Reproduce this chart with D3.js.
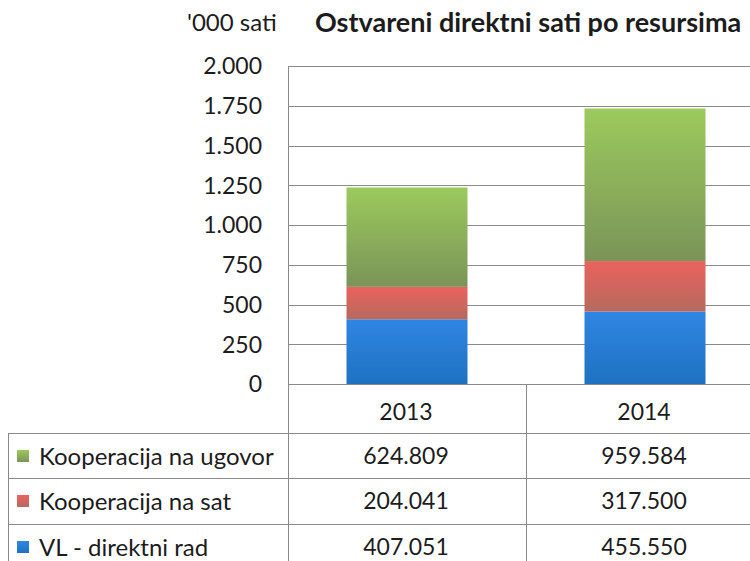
<!DOCTYPE html>
<html>
<head>
<meta charset="utf-8">
<script src="https://cdn.jsdelivr.net/npm/d3@7"></script>
<style>
  html, body { margin: 0; padding: 0; background: #fff; }
  svg { display: block; font-family: Lato, "Open Sans", sans-serif; }
</style>
</head>
<body>
<div id="viz"></div>
<script>
// -----------------------------
// DATA
// -----------------------------
const years = ["2013", "2014"];
const seriesNames = ["VL - direktni rad", "Kooperacija na sat", "Kooperacija na ugovor"];
const vlDirektni = [407051, 455550];
const koopSat = [204041, 317500];
const koopUgovor = [624809, 959584];
const yTicks = [0, 250, 500, 750, 1000, 1250, 1500, 1750, 2000];

const seriesValues = [vlDirektni, koopSat, koopUgovor];
// gradient top / bottom per series
const seriesColors = [
  ["#2f86e2", "#1f72c2"],
  ["#ea625e", "#b66a5e"],
  ["#9cca5d", "#7a9458"]
];

const width = 750, height = 561;
const plot = { left: 288, top: 66, bottom: 384, band: 238 };

const svg = d3.select("#viz").append("svg")
  .attr("width", width)
  .attr("height", height);

const loc = d3.formatLocale({ decimal: ",", thousands: ".", grouping: [3], currency: ["", ""] });
const fmt = loc.format(",");

const x = d3.scaleBand()
  .domain(years)
  .range([plot.left, plot.left + plot.band * years.length])
  .paddingInner(0)
  .paddingOuter(0);

const y = d3.scaleLinear()
  .domain([0, 2000])
  .range([plot.bottom, plot.top]);

// -----------------------------
// GRADIENTS
// -----------------------------
const defs = svg.append("defs");
seriesColors.forEach((c, i) => {
  const g = defs.append("linearGradient")
    .attr("id", "grad" + i)
    .attr("x1", 0).attr("y1", 0).attr("x2", 0).attr("y2", 1);
  g.append("stop").attr("offset", "0%").attr("stop-color", c[0]);
  g.append("stop").attr("offset", "100%").attr("stop-color", c[1]);
});

// -----------------------------
// GRID + AXIS
// -----------------------------
svg.append("g")
  .selectAll("line")
  .data(yTicks)
  .join("line")
  .attr("x1", plot.left).attr("x2", width)
  .attr("y1", d => Math.round(y(d)) + 0.5)
  .attr("y2", d => Math.round(y(d)) + 0.5)
  .attr("stroke", "#8a8a8a")
  .attr("stroke-width", 1);

svg.append("g")
  .selectAll("text")
  .data(yTicks)
  .join("text")
  .attr("x", 262)
  .attr("y", d => y(d))
  .attr("dy", "0.36em")
  .attr("text-anchor", "end")
  .attr("font-size", 23)
  .attr("fill", "#1c1c1c")
  .text(d => fmt(d));

// -----------------------------
// BARS
// -----------------------------
const stack = d3.stack()
  .keys(d3.range(seriesNames.length))
  .value((d, k) => seriesValues[k][d] / 1000);
const stacked = stack(d3.range(years.length));

const barW = 121;
svg.append("g")
  .selectAll("g")
  .data(stacked)
  .join("g")
  .attr("fill", d => "url(#grad" + d.key + ")")
  .selectAll("rect")
  .data(d => d)
  .join("rect")
  .attr("x", (d, i) => x(years[i]) + x.bandwidth() / 2 - barW / 2)
  .attr("width", barW)
  .attr("y", d => y(d[1]))
  .attr("height", d => y(d[0]) - y(d[1]));

// -----------------------------
// TITLES
// -----------------------------
svg.append("text")
  .attr("x", 187).attr("y", 31)
  .attr("font-size", 24)
  .attr("fill", "#1c1c1c")
  .text("'000 sati");

svg.append("text")
  .attr("x", 315).attr("y", 32)
  .attr("font-size", 27)
  .attr("font-weight", "bold")
  .attr("fill", "#1c1c1c")
  .text("Ostvareni direktni sati po resursima");

// -----------------------------
// DATA TABLE
// -----------------------------
const tableLeft = 8;
const rowTop = [433, 478, 524];
const rowH = 46;
const lineColor = "#8a8a8a";
const tbl = svg.append("g").attr("stroke", lineColor).attr("stroke-width", 1);

// vertical lines
tbl.append("line").attr("x1", plot.left + 0.5).attr("x2", plot.left + 0.5)
  .attr("y1", plot.top).attr("y2", height);
tbl.append("line").attr("x1", x("2014") + 0.5).attr("x2", x("2014") + 0.5)
  .attr("y1", plot.bottom).attr("y2", height);
tbl.append("line").attr("x1", tableLeft + 0.5).attr("x2", tableLeft + 0.5)
  .attr("y1", rowTop[0]).attr("y2", height);
// horizontal lines
tbl.selectAll("line.h")
  .data(rowTop)
  .join("line")
  .attr("class", "h")
  .attr("x1", tableLeft).attr("x2", width)
  .attr("y1", d => d + 0.5).attr("y2", d => d + 0.5);

// year headers
svg.append("g")
  .selectAll("text")
  .data(years)
  .join("text")
  .attr("x", d => x(d) + x.bandwidth() / 2 - 1)
  .attr("y", 412)
  .attr("dy", "0.36em")
  .attr("text-anchor", "middle")
  .attr("font-size", 23)
  .attr("fill", "#1c1c1c")
  .text(d => d);

// rows: top to bottom is ugovor, sat, VL
const rowOrder = [2, 1, 0];
const rows = svg.append("g")
  .selectAll("g")
  .data(rowOrder)
  .join("g")
  .attr("transform", (d, i) => `translate(0,${rowTop[i] + rowH / 2})`);

rows.append("rect")
  .attr("x", 17).attr("y", -6)
  .attr("width", 12).attr("height", 12)
  .attr("fill", d => "url(#grad" + d + ")");

rows.append("text")
  .attr("x", 39).attr("y", 0)
  .attr("dy", "0.36em")
  .attr("font-size", 24)
  .attr("fill", "#1c1c1c")
  .text(d => seriesNames[d]);

rows.selectAll("text.val")
  .data(d => years.map((yr, j) => ({ yr, v: seriesValues[d][j] })))
  .join("text")
  .attr("class", "val")
  .attr("x", d => x(d.yr) + x.bandwidth() / 2 - 1)
  .attr("y", 0)
  .attr("dy", "0.36em")
  .attr("text-anchor", "middle")
  .attr("font-size", 23)
  .attr("fill", "#1c1c1c")
  .text(d => fmt(d.v));
</script>
</body>
</html>
